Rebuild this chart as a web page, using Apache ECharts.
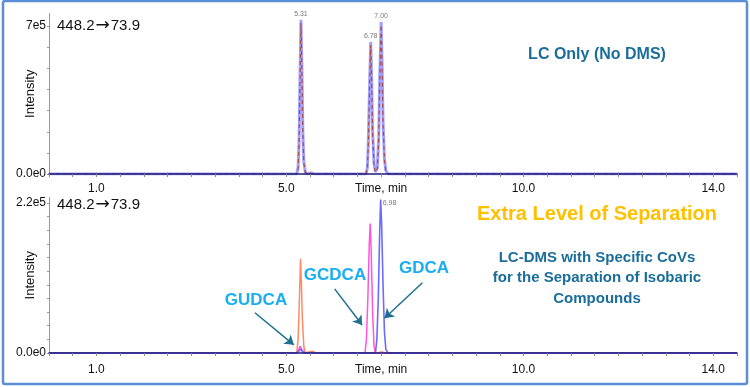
<!DOCTYPE html>
<html>
<head>
<meta charset="utf-8">
<script src="https://cdn.jsdelivr.net/npm/echarts@6/dist/echarts.min.js"></script>
<style>html,body{margin:0;padding:0;background:#fff;}#c{width:750px;height:387px;}</style>
</head>
<body>
<div id="c"></div>
<script>
// ---- data ----
const xTickValues = [1, 5, 7, 10, 14];
const xTickLabels = ['1.0', '5.0', 'Time, min', '10.0', '14.0'];
const topYLabelValues = [0, 700000];
const topYLabels = ['0.0e0', '7e5'];
const botYLabelValues = [0, 220000];
const botYLabels = ['0.0e0', '2.2e5'];

const topTime = [0, 5.22, 5.25, 5.27, 5.29, 5.31, 5.33, 5.35, 5.37, 5.40, 5.44, 5.52, 5.56, 5.60,
  6.68, 6.71, 6.73, 6.76, 6.78, 6.80, 6.82, 6.85, 6.88,
  6.90, 6.92, 6.95, 6.97, 7.00, 7.02, 7.04, 7.07, 7.10, 7.15, 14.5];
const topBlue = [0, 0, 30000, 150000, 450000, 730000, 500000, 200000, 60000, 10000, 0, 5000, 6000, 0,
  0, 30000, 150000, 450000, 625000, 450000, 200000, 50000, 10000,
  5000, 30000, 180000, 450000, 720000, 520000, 250000, 70000, 15000, 0, 0];
const topRed = [0, 0, 25000, 140000, 440000, 715000, 490000, 190000, 55000, 8000, 0, 3000, 4000, 0,
  0, 25000, 140000, 440000, 610000, 440000, 190000, 45000, 8000,
  4000, 25000, 170000, 440000, 705000, 510000, 240000, 65000, 12000, 0, 0];
const topPeakTimes = [5.31, 6.78, 7.00];
const topPeakHeights = [730000, 625000, 720000];
const topPeakLabels = ['5.31', '6.78', '7.00'];

const botTime = [0, 5.22, 5.25, 5.27, 5.29, 5.30, 5.32, 5.34, 5.37, 5.40, 5.50, 5.56, 5.62,
  6.66, 6.69, 6.72, 6.75, 6.77, 6.79, 6.82, 6.85, 6.88,
  6.91, 6.94, 6.97, 6.99, 7.01, 7.04, 7.07, 7.10, 7.15, 14.5];
const gudca = [0, 0, 20000, 60000, 110000, 138000, 100000, 50000, 10000, 0, 2000, 2500, 0,
  0, 0, 0, 0, 0, 0, 0, 0, 0,
  0, 0, 1000, 1500, 1500, 1000, 0, 0, 0, 0];
const gcdca = [0, 0, 2000, 6000, 10000, 12000, 9000, 4000, 1000, 0, 0, 0, 0,
  0, 20000, 80000, 160000, 190000, 150000, 60000, 10000, 0,
  0, 0, 0, 0, 0, 0, 0, 0, 0, 0];
const gdca = [0, 0, 1000, 3000, 5000, 6000, 4000, 2000, 0, 0, 0, 0, 0,
  0, 0, 0, 0, 0, 0, 0, 0, 0,
  20000, 80000, 180000, 225000, 190000, 100000, 30000, 5000, 0, 0];
const botPeakTimes = [6.99];
const botPeakHeights = [225000];
const botPeakLabels = ['6.98'];

// annotation arrows (data coords of bottom panel): [fromTime, fromInt, toTime, toInt]
const arrowGUDCA = [4.34, 59000, 5.16, 12000];
const arrowGCDCA = [6.02, 94000, 6.60, 41000];
const arrowGDCA = [7.87, 103000, 7.07, 51000];

// ---- chart ----
const FONT = 'Liberation Sans, Arial, sans-serif';
const pairs = (xs, ys) => xs.map((x, i) => [x, ys[i]]);
const labelFor = (vals, labs) => v => {
  for (let i = 0; i < vals.length; i++) if (Math.abs(v - vals[i]) < 1e-6) return labs[i];
  return '';
};

function xAxisCfg(gi, margin) {
  return {
    type: 'value', gridIndex: gi, min: 0, max: 14.5, interval: 0.5, z: 5,
    axisLine: { lineStyle: { color: '#1c1c78', width: 1.5 } },
    axisTick: { show: true, length: 3, lineStyle: { color: '#888', width: 1 } },
    splitLine: { show: false },
    axisLabel: { formatter: labelFor(xTickValues, xTickLabels), color: '#111', fontSize: 12,
      fontFamily: FONT, margin: margin, showMinLabel: true, showMaxLabel: true }
  };
}
function yAxisCfg(gi, max, interval, vals, labs) {
  return {
    type: 'value', gridIndex: gi, min: 0, max: max, interval: interval,
    name: 'Intensity', nameLocation: 'middle', nameGap: 12, nameRotate: 90, nameMoveOverlap: false,
    nameTextStyle: { color: '#111', fontSize: 13, fontFamily: FONT },
    axisLine: { show: true, lineStyle: { color: '#999', width: 1 } },
    axisTick: { show: true, length: 2, lineStyle: { color: '#999' } },
    splitLine: { show: false },
    axisLabel: { formatter: labelFor(vals, labs), color: '#111', fontSize: 12, fontFamily: FONT,
      margin: 3, showMaxLabel: false }
  };
}

const chart = echarts.init(document.getElementById('c'), null, { renderer: 'canvas' });
const arrowLine = a => [{ coord: [a[0], a[1]] }, { coord: [a[2], a[3]] }];
const transText = {
  text: '448.2{a|→}73.9',
  font: '15px ' + FONT, fill: '#111',
  rich: { a: { fontFamily: 'DejaVu Sans', fontSize: 17, fill: '#111', padding: [0, 1, 0, 1] } }
};

chart.setOption({
  animation: false,
  grid: [
    { left: 49, top: 13.5, width: 688, height: 160.5, containLabel: false, outerBoundsMode: 'none' },
    { left: 49, top: 197.5, width: 688, height: 155.5, containLabel: false, outerBoundsMode: 'none' }
  ],
  xAxis: [xAxisCfg(0, 9), xAxisCfg(1, 11)],
  yAxis: [
    yAxisCfg(0, 760000, 100000, topYLabelValues, topYLabels),
    yAxisCfg(1, 228000, 20000, botYLabelValues, botYLabels)
  ],
  series: [
    { type: 'line', xAxisIndex: 0, yAxisIndex: 0, z: 1, data: pairs(topTime, topBlue), symbol: 'none',
      lineStyle: { color: 'rgba(120,120,255,0.7)', width: 3 } },
    { type: 'line', xAxisIndex: 0, yAxisIndex: 0, z: 1, data: pairs(topTime, topRed), symbol: 'none',
      lineStyle: { color: '#b04a4a', width: 1.2, type: [4, 3] } },
    { type: 'scatter', xAxisIndex: 0, yAxisIndex: 0, symbolSize: 0,
      data: topPeakTimes.map((t, i) => ({ value: [t, topPeakHeights[i]], label: { formatter: topPeakLabels[i] } })),
      label: { show: true, position: 'top', distance: 2, fontSize: 7, color: '#555', fontFamily: FONT } },

    { type: 'line', xAxisIndex: 1, yAxisIndex: 1, z: 1, data: pairs(botTime, gudca), symbol: 'none',
      lineStyle: { color: '#ff8a66', width: 1.5 } },
    { type: 'line', xAxisIndex: 1, yAxisIndex: 1, z: 1, data: pairs(botTime, gcdca), symbol: 'none',
      lineStyle: { color: '#ff55dd', width: 1.5 } },
    { type: 'line', xAxisIndex: 1, yAxisIndex: 1, z: 1, data: pairs(botTime, gdca), symbol: 'none',
      lineStyle: { color: '#6b6bff', width: 1.6 },
      markLine: {
        silent: true, symbol: ['none', 'arrow'], symbolSize: 9,
        lineStyle: { color: '#1f6f8f', width: 1.5, type: 'solid' },
        label: { show: false },
        data: [arrowLine(arrowGUDCA), arrowLine(arrowGCDCA), arrowLine(arrowGDCA)]
      } },
    { type: 'scatter', xAxisIndex: 1, yAxisIndex: 1, symbolSize: 0,
      data: botPeakTimes.map((t, i) => ({ value: [t, botPeakHeights[i]], label: { formatter: botPeakLabels[i] } })),
      label: { show: true, position: 'right', distance: 2, offset: [0, 4], fontSize: 7, color: '#555', fontFamily: FONT } }
  ],
  graphic: [
    { type: 'rect', shape: { x: 3, y: 1, width: 744, height: 383, r: 2 },
      style: { fill: 'none', stroke: '#5b8ed6', lineWidth: 2.5 }, silent: true },
    { type: 'text', left: 57, top: 17, style: transText },
    { type: 'text', left: 57, top: 196, style: transText },
    { type: 'text', x: 597, y: 55, style: { text: 'LC Only (No DMS)', font: 'bold 16px ' + FONT, fill: '#1b6e9a', align: 'center', verticalAlign: 'middle' } },
    { type: 'text', x: 597, y: 214, style: { text: 'Extra Level of Separation', font: 'bold 20px ' + FONT, fill: '#ffc000', align: 'center', verticalAlign: 'middle' } },
    { type: 'text', x: 597, y: 278, style: { text: 'LC-DMS with Specific CoVs\nfor the Separation of Isobaric\nCompounds', font: 'bold 15px ' + FONT, lineHeight: 20.5, fill: '#1b6e9a', align: 'center', verticalAlign: 'middle' } },
    { type: 'text', x: 256, y: 300, style: { text: 'GUDCA', font: 'bold 17px ' + FONT, fill: '#1aaef0', align: 'center', verticalAlign: 'middle' } },
    { type: 'text', x: 335, y: 275, style: { text: 'GCDCA', font: 'bold 17px ' + FONT, fill: '#1aaef0', align: 'center', verticalAlign: 'middle' } },
    { type: 'text', x: 424, y: 268, style: { text: 'GDCA', font: 'bold 17px ' + FONT, fill: '#1aaef0', align: 'center', verticalAlign: 'middle' } }
  ]
});
</script>
</body>
</html>
